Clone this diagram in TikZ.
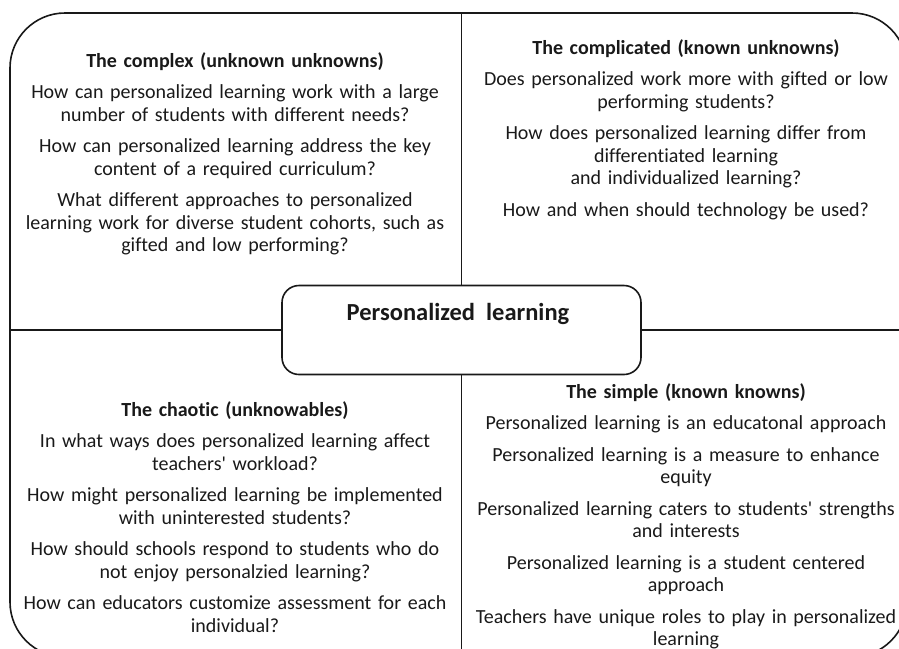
\documentclass[tikz,border=0pt]{standalone}
\usepackage{fontspec}
\setmainfont{Carlito}[Ligatures=NoCommon]
\begin{document}
\begin{tikzpicture}[x=1pt,y=-1pt,
  rule/.style={line width=1.6pt, draw=black!90},
  quad/.style={text width=460pt, align=center, inner sep=0pt, anchor=base,
    font=\fontsize{20}{22.5}\selectfont, text=black!90}]
\useasboundingbox (0,0) rectangle (899,648);
% outer frame (its right and bottom edges run past the page)
\node[rule, rounded corners=55pt, minimum width=897pt, minimum height=644pt,
  inner sep=0pt] (frame) at (458.5,335) {};
% central hub
\node[rule, fill=white, rounded corners=17pt, minimum width=359pt,
  minimum height=89pt, inner sep=0pt] (hub) at (461.5,330) {};
\node[anchor=base, inner sep=0pt, font=\fontsize{24.5}{28}\selectfont\bfseries,
  text=black!90] (hublabel) at (458,320) {Personalized\ \ learning};
% dividers between the four domains
\draw[rule] (hub.north) -- (hub.north |- frame.north);
\draw[rule] (hub.south) -- (hub.south |- frame.south);
\draw[rule] (hub.west) -- (hub.west -| frame.west);
\draw[rule] (hub.east) -- (hub.east -| frame.east);
% the complex
\node[quad] (complex) at (235,67) {%
  {\bfseries The complex (unknown unknowns)}\\[9pt]
  How can personalized learning work with a large\\
  number of students with different needs?\\[9pt]
  How can personalized learning address the key\\
  content of a required curriculum?\\[9pt]
  What different approaches to personalized\\
  learning work for diverse student cohorts, such as\\
  gifted and low performing?};
% the complicated
\node[quad] (complicated) at (686,54) {%
  {\bfseries The complicated (known unknowns)}\\[9pt]
  Does personalized work more with gifted or low\\
  performing students?\\[9pt]
  How does personalized learning differ from\\
  differentiated learning\\
  and individualized learning?\\[9pt]
  How and when should technology be used?};
% the chaotic
\node[quad] (chaotic) at (235,416) {%
  {\bfseries The chaotic (unknowables)}\\[9pt]
  In what ways does personalized learning affect\\
  teachers\textquotesingle\ workload?\\[9pt]
  How might personalized learning be implemented\\
  with uninterested students?\\[9pt]
  How should schools respond to students who do\\
  not enjoy personalzied learning?\\[9pt]
  How can educators customize assessment for each\\
  individual?};
% the simple
\node[quad] (simple) at (686,398) {%
  {\bfseries The simple (known knowns)}\\[9pt]
  Personalized learning is an educatonal approach\\[9pt]
  Personalized learning is a measure to enhance\\
  equity\\[9pt]
  Personalized learning caters to students\textquotesingle\ strengths\\
  and interests\\[9pt]
  Personalized learning is a student centered\\
  approach\\[9pt]
  Teachers have unique roles to play in personalized\\
  learning};
\end{tikzpicture}
\end{document}
